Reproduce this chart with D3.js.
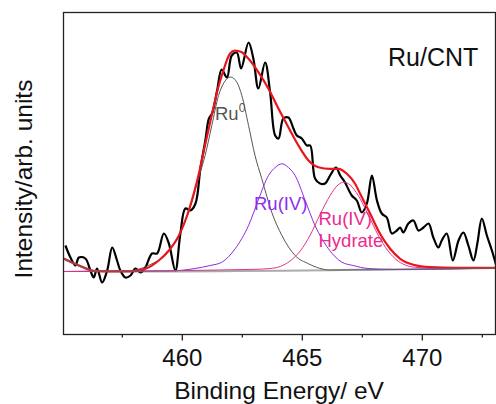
<!DOCTYPE html>
<html>
<head>
<meta charset="utf-8">
<script src="https://cdn.jsdelivr.net/npm/d3@7"></script>
<style>
  body { margin: 0; background: #fff; }
  svg text { font-family: Arial, "Liberation Sans", sans-serif; }
</style>
</head>
<body>
<svg id="chart" width="496" height="404"></svg>
<script>
// binding energy (eV) / intensity (arb.) pairs
const measured = [
  [455.15, 89], [455.36, 77], [455.57, 69], [455.71, 77], [455.98, 76], [456.19, 64],
  [456.33, 57], [456.47, 66], [456.68, 52], [456.89, 64], [457.10, 87], [457.30, 74],
  [457.44, 64], [457.65, 57], [457.86, 59], [458.07, 66], [458.28, 62], [458.48, 67],
  [458.76, 81], [458.97, 81], [459.25, 101], [459.46, 91], [459.73, 64], [459.94, 101],
  [460.15, 126], [460.36, 124], [460.57, 131], [460.78, 167], [460.98, 194], [461.13, 216],
  [461.26, 221], [461.47, 244], [461.66, 265], [461.88, 257], [462.08, 279], [462.29, 282],
  [462.47, 266], [462.78, 292], [462.98, 276], [463.19, 246], [463.47, 272], [463.68, 242],
  [463.89, 199], [464.03, 196], [464.23, 216], [464.44, 217], [464.65, 206], [464.79, 199],
  [465.00, 196], [465.21, 189], [465.35, 189], [465.55, 156], [465.76, 151], [465.97, 151],
  [466.18, 159], [466.42, 167], [466.60, 159], [466.80, 152], [467.08, 139], [467.29, 134],
  [467.50, 122], [467.71, 131], [467.92, 159], [468.13, 134], [468.33, 121], [468.54, 117],
  [468.75, 101], [468.96, 104], [469.10, 107], [469.23, 102], [469.44, 111], [469.65, 114],
  [469.86, 104], [470.07, 107], [470.28, 111], [470.48, 97], [470.69, 87], [470.83, 94],
  [471.04, 101], [471.29, 74], [471.53, 94], [471.73, 102], [471.94, 89], [472.15, 74],
  [472.32, 92], [472.50, 116], [472.71, 99], [472.92, 84], [473.10, 69]
];

const envelope = [
  [455.07, 76], [455.71, 69], [456.40, 63.3], [457.10, 63], [457.79, 63], [458.48, 65.7],
  [459.04, 74], [459.46, 84], [459.88, 99], [460.29, 124], [460.71, 160.7], [460.98, 190.7],
  [461.26, 220.7], [461.54, 249], [461.68, 260], [462.01, 281], [462.22, 284], [462.50, 282.3],
  [462.78, 275.7], [463.19, 262.3], [463.61, 245.7], [464.03, 225.7], [464.44, 207.3],
  [464.86, 189], [465.28, 174], [465.69, 167.3], [466.18, 165.7], [466.53, 165.7],
  [466.88, 160.7], [467.22, 150.7], [467.43, 140.7], [467.85, 120.7], [468.26, 100.7],
  [468.68, 85.7], [469.10, 75.7], [469.65, 69.7], [470.35, 67.3], [471.46, 66.7], [473.07, 66.7]
];

const background = [
  [455.07, 76], [455.71, 69], [456.40, 63.5], [457.79, 63], [473.07, 66.5]
];

const ru0 = [
  [455.07, 63], [457.85, 64], [458.75, 70.7], [459.30, 79], [459.86, 99], [460.28, 122],
  [460.69, 156], [460.97, 179], [461.25, 209], [461.53, 239], [461.76, 252], [462.03, 257.5],
  [462.30, 252], [462.50, 239], [462.78, 209], [463.05, 179], [463.33, 156], [463.75, 122],
  [464.17, 99], [464.72, 79], [465.28, 70.7], [466.18, 64.5], [473.07, 66.5]
];

const ru4 = [
  [455.07, 63], [459.51, 63.5], [460.55, 66], [461.18, 69], [461.67, 72.3], [462.22, 85.7],
  [462.78, 109], [463.18, 134], [463.61, 159], [463.89, 167], [464.17, 170.7], [464.44, 167],
  [464.72, 159], [465.14, 134], [465.55, 109], [466.11, 85.7], [466.67, 72.3], [467.14, 69],
  [467.76, 66], [468.80, 65], [473.07, 66.5]
];

const ru4Hydrate = [
  [455.07, 63], [463.05, 65.2], [463.68, 66], [464.10, 68], [464.51, 73.5], [464.93, 83.4],
  [465.35, 99.5], [465.76, 120], [466.18, 139], [466.51, 149.6], [466.76, 152.3],
  [467.01, 149.6], [467.35, 139], [467.76, 120], [468.18, 99.5], [468.60, 83.4],
  [469.01, 73.5], [469.43, 68.5], [469.85, 67], [470.47, 66.5], [473.07, 66.5]
];

const majorTicks = [460, 465, 470];
const minorTicks = [457.5, 462.5, 467.5, 472.5];

const svg = d3.select("#chart");
const plotLeft = 63.5, plotRight = 495.5, plotTop = 12.5, plotBottom = 334.5;

const x = d3.scaleLinear().domain([455.07, 473.07]).range([plotLeft, plotRight]);
const y = d3.scaleLinear().domain([0, 322]).range([plotBottom, plotTop]);

const smooth = d3.line()
    .x(d => x(d[0]))
    .y(d => y(d[1]))
    .curve(d3.curveMonotoneX);

const noisy = d3.line()
    .x(d => x(d[0]))
    .y(d => y(d[1]))
    .curve(d3.curveCatmullRom.alpha(0.5));

svg.append("clipPath").attr("id", "plotClip")
    .append("rect")
    .attr("x", plotLeft).attr("y", plotTop)
    .attr("width", plotRight - plotLeft).attr("height", plotBottom - plotTop);

const plot = svg.append("g").attr("clip-path", "url(#plotClip)");

plot.append("path")
    .datum(measured)
    .attr("d", noisy)
    .attr("fill", "none")
    .attr("stroke", "#000")
    .attr("stroke-width", 2.2)
    .attr("stroke-linejoin", "round");

const parts = [
    { data: ru0, color: "#555555" },
    { data: ru4, color: "#8a2be2" },
    { data: ru4Hydrate, color: "#e6308c" }
];

parts.forEach(p => {
    plot.append("path")
        .datum(p.data)
        .attr("d", smooth)
        .attr("fill", "none")
        .attr("stroke", p.color)
        .attr("stroke-width", 1);
});

plot.append("path")
    .datum(envelope)
    .attr("d", smooth)
    .attr("fill", "none")
    .attr("stroke", "#e8161c")
    .attr("stroke-width", 2.2);

plot.append("path")
    .datum(background)
    .attr("d", smooth)
    .attr("fill", "none")
    .attr("stroke", "#666")
    .attr("stroke-opacity", 0.55)
    .attr("stroke-width", 2);

// frame
svg.append("rect")
    .attr("x", plotLeft).attr("y", plotTop)
    .attr("width", plotRight - plotLeft).attr("height", plotBottom - plotTop)
    .attr("fill", "none")
    .attr("stroke", "#222")
    .attr("stroke-width", 1.3);

// axes
const xAxis = svg.append("g")
    .attr("transform", `translate(0,${plotBottom})`)
    .call(d3.axisBottom(x).tickValues(majorTicks).tickSize(6).tickPadding(8).tickFormat(d3.format("d")));
xAxis.select(".domain").remove();
xAxis.selectAll("line").attr("stroke", "#222").attr("stroke-width", 1.3);
xAxis.selectAll("text").attr("font-size", 24).attr("fill", "#111")
    .style("font-family", "Arial, 'Liberation Sans', sans-serif");

const xMinor = svg.append("g")
    .attr("transform", `translate(0,${plotBottom})`)
    .call(d3.axisBottom(x).tickValues(minorTicks).tickSize(3).tickFormat(""));
xMinor.select(".domain").remove();
xMinor.selectAll("line").attr("stroke", "#222").attr("stroke-width", 1.3);

// titles
svg.append("text")
    .attr("x", 279).attr("y", 399)
    .attr("text-anchor", "middle")
    .attr("font-size", 24.5)
    .attr("fill", "#111")
    .text("Binding Energy/ eV");

svg.append("text")
    .attr("transform", "translate(32,179) rotate(-90)")
    .attr("text-anchor", "middle")
    .attr("font-size", 24.5)
    .attr("fill", "#111")
    .text("Intensity/arb. units");

svg.append("text")
    .attr("x", 388).attr("y", 65.5)
    .attr("font-size", 25)
    .attr("fill", "#111")
    .text("Ru/CNT");

// peak labels
const ru0Label = svg.append("text")
    .attr("x", 215).attr("y", 119.5)
    .attr("font-size", 18.5)
    .attr("fill", "#555");
ru0Label.append("tspan").text("Ru");
ru0Label.append("tspan").attr("font-size", 12).attr("dy", -8).text("0");

svg.append("text")
    .attr("x", 254).attr("y", 209.5)
    .attr("font-size", 18.5)
    .attr("fill", "#8f2df0")
    .text("Ru(IV)");

svg.append("text")
    .attr("x", 318.5).attr("y", 225)
    .attr("font-size", 18.5)
    .attr("fill", "#ee2a8e")
    .text("Ru(IV)");

svg.append("text")
    .attr("x", 318.5).attr("y", 246.5)
    .attr("font-size", 18.5)
    .attr("fill", "#ee2a8e")
    .text("Hydrate");
</script>
</body>
</html>
